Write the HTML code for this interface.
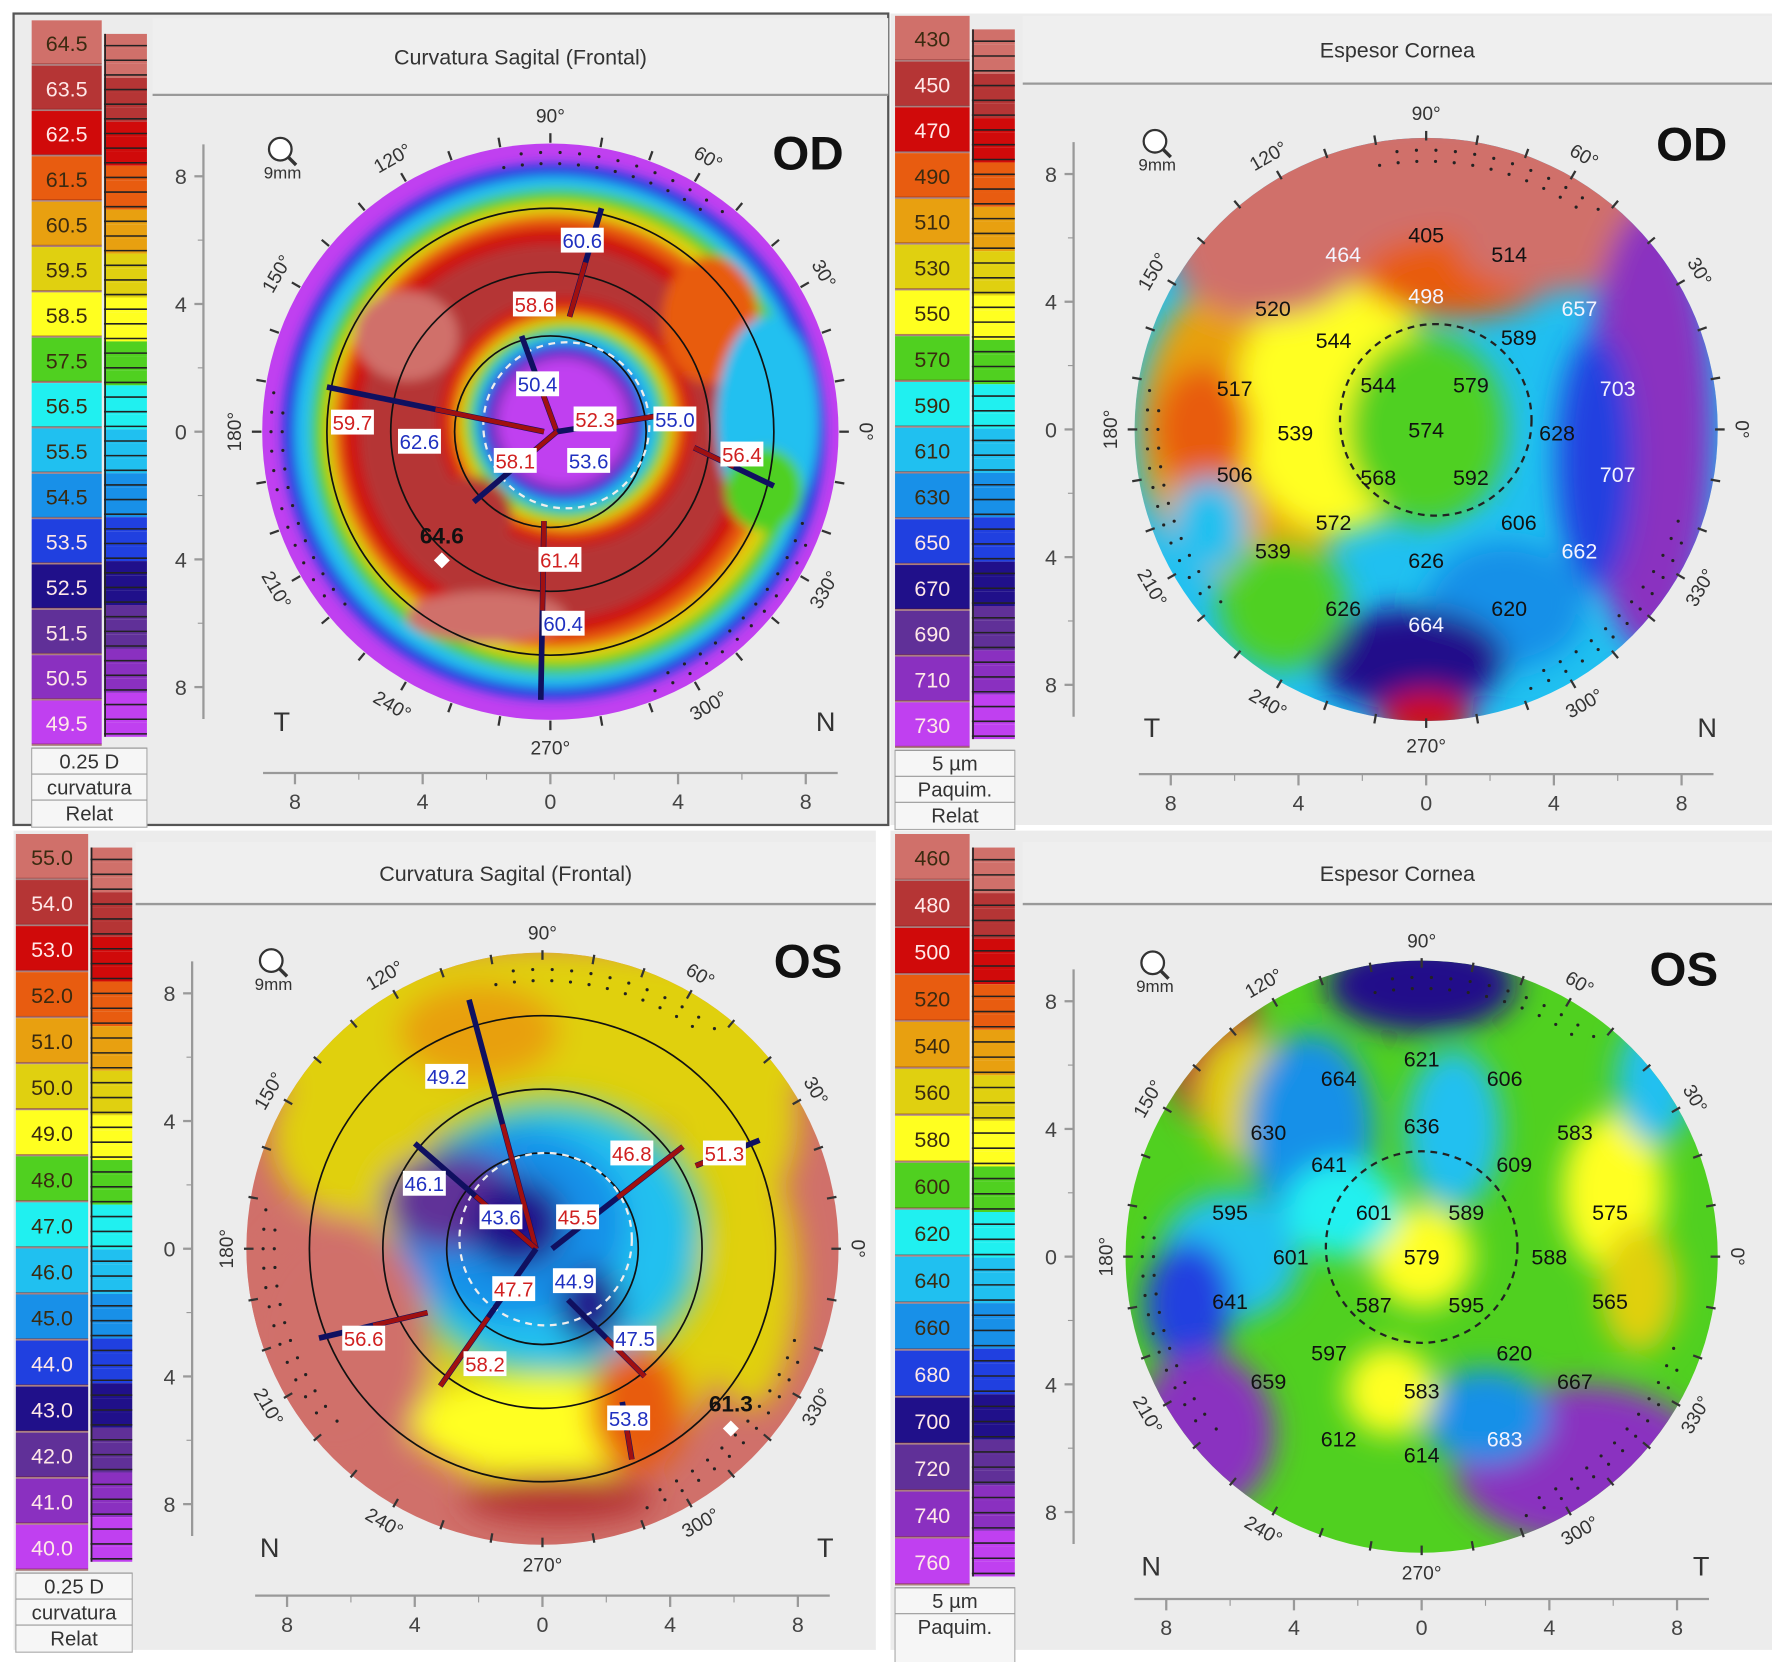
<!DOCTYPE html>
<html><head><meta charset="utf-8">
<style>
html,body{margin:0;padding:0;background:#fff;}
svg{display:block;font-family:"Liberation Sans",sans-serif;}
</style></head>
<body>
<svg id="chart" width="1772" height="1662" viewBox="0 0 1568 1470.7" xmlns="http://www.w3.org/2000/svg">
<defs>
<filter id="blur" x="-50%" y="-50%" width="200%" height="200%"><feGaussianBlur stdDeviation="13"/></filter>
<filter id="blurS" x="-50%" y="-50%" width="200%" height="200%"><feGaussianBlur stdDeviation="5"/></filter>
</defs>
<g id="root"></g>
</svg>
<script>
// ---- data ----
const palette = ['#d0706a','#b53535','#d00a0a','#e85c10','#e8a010','#e0d010','#ffff20','#50d020','#20f0f0','#20c0f0','#1890e8','#2040e0','#20108a','#603098','#8a30c0','#c040f0'];
const legendOD1 = ['64.5','63.5','62.5','61.5','60.5','59.5','58.5','57.5','56.5','55.5','54.5','53.5','52.5','51.5','50.5','49.5'];
const legendOD2 = ['430','450','470','490','510','530','550','570','590','610','630','650','670','690','710','730'];
const legendOS1 = ['55.0','54.0','53.0','52.0','51.0','50.0','49.0','48.0','47.0','46.0','45.0','44.0','43.0','42.0','41.0','40.0'];
const legendOS2 = ['460','480','500','520','540','560','580','600','620','640','660','680','700','720','740','760'];
const axisTicks = ['8','4','0','4','8'];
const degLabels = ['0°','30°','60°','90°','120°','150°','180°','210°','240°','270°','300°','330°'];
// thickness readings [xmm, ymm, value]
const thickOD = [[0,6.1,'405'],[-2.6,5.5,'464'],[2.6,5.5,'514'],[0,4.2,'498'],[-4.8,3.8,'520'],[-2.9,2.8,'544'],[2.9,2.9,'589'],[4.8,3.8,'657'],[-6,1.3,'517'],[-1.5,1.4,'544'],[1.4,1.4,'579'],[6,1.3,'703'],[-4.1,-0.1,'539'],[0,0,'574'],[4.1,-0.1,'628'],[-6,-1.4,'506'],[-1.5,-1.5,'568'],[1.4,-1.5,'592'],[6,-1.4,'707'],[-2.9,-2.9,'572'],[2.9,-2.9,'606'],[-4.8,-3.8,'539'],[0,-4.1,'626'],[4.8,-3.8,'662'],[-2.6,-5.6,'626'],[2.6,-5.6,'620'],[0,-6.1,'664']];
const thickOS = [[0,6.2,'621'],[-2.6,5.6,'664'],[2.6,5.6,'606'],[0,4.1,'636'],[-4.8,3.9,'630'],[4.8,3.9,'583'],[-2.9,2.9,'641'],[2.9,2.9,'609'],[-6,1.4,'595'],[-1.5,1.4,'601'],[1.4,1.4,'589'],[5.9,1.4,'575'],[-4.1,0,'601'],[0,0,'579'],[4,0,'588'],[-6,-1.4,'641'],[-1.5,-1.5,'587'],[1.4,-1.5,'595'],[5.9,-1.4,'565'],[-2.9,-3,'597'],[2.9,-3,'620'],[-4.8,-3.9,'659'],[0,-4.2,'583'],[4.8,-3.9,'667'],[-2.6,-5.7,'612'],[2.6,-5.7,'683'],[0,-6.2,'614']];
const darkOD = ['464','498','657','703','707','662','664'];
const darkOS = ['683'];
// curvature readings [xmm, ymm, value, kind]
const curvOD = [[1,6,'60.6','b'],[-0.5,4,'58.6','r'],[-0.4,1.5,'50.4','b'],[1.4,0.4,'52.3','r'],[3.9,0.4,'55.0','b'],[-6.2,0.3,'59.7','r'],[-4.1,-0.3,'62.6','b'],[-1.1,-0.9,'58.1','r'],[1.2,-0.9,'53.6','b'],[6.0,-0.7,'56.4','r'],[0.3,-4.0,'61.4','r'],[0.4,-6.0,'60.4','b']];
const curvOS = [[-3,5.4,'49.2','b'],[2.8,3.0,'46.8','r'],[5.7,3.0,'51.3','r'],[-3.7,2.05,'46.1','b'],[-1.3,1.0,'43.6','b'],[1.1,1.0,'45.5','r'],[-0.9,-1.25,'47.7','r'],[1.0,-1.0,'44.9','b'],[-5.6,-2.8,'56.6','r'],[-1.8,-3.6,'58.2','r'],[2.9,-2.8,'47.5','b'],[2.7,-5.3,'53.8','b']];
// colour blobs [xmm, ymm, rxmm, rymm, level]
const blobOD1 = [[0,0,9,9,15],[0.1,0,8.5,8.4,11],[0.1,0,8.1,8.0,9],[0.2,0,7.7,7.6,7],[0.2,0,7.3,7.2,5],[0.1,0,6.9,6.8,3],[0,0,6.5,6.4,2],[0,0,6.0,5.9,1],[-4.5,3,1.6,1.4,0],[-2,-5.8,2.5,0.8,0],[0.5,0.3,4.0,3.9,2],[0.5,0.3,3.7,3.6,3],[0.5,0.3,3.4,3.3,5],[0.5,0.3,3.15,3.05,7],[0.5,0.3,2.9,2.8,9],[0.4,0.3,2.6,2.5,11],[0.4,0.3,2.3,2.2,14],[0.4,0.3,2.0,1.95,15],[5,3.5,1.5,2,3],[6.8,0.3,1.6,3.3,9],[6.7,-1.8,1.2,1.3,7],[-2.5,-2.6,1.3,1.2,1]];
const blobOD2 = [[0,0,9,9,9],[-5.5,0,3.5,5,4],[-2.8,0.8,3.2,4,6],[0,0,2.5,3,7],[-7,0,1.5,2,3],[0,7.2,9,2.8,0],[-5,5.5,3,2,0],[1,4.8,3,1.3,3],[4,5.8,3,1.5,0],[7,0,2,7,14],[5.3,-1,1.2,4,11],[2.5,-5.5,2.5,2,10],[-0.5,-7.2,3,1.6,12],[0,-9,1.5,0.8,2],[-4.5,-5.5,2,2,7],[-6.8,-3,1.2,1.5,9]];
const blobOS1 = [[0,0,9,9,0],[0,6.5,9,3,5],[-2,6.8,2.5,1.5,4],[6,4,2,3,5],[-6,3.5,2.5,2.5,5],[0,-1.5,6,6,5],[0.3,0.3,5,4.5,7],[0.3,0.3,4.5,4,9],[-1,0.8,3.6,3,10],[-2.8,1.5,2.2,1.5,13],[-0.8,0.8,1.5,1.4,12],[1.5,-1.8,1,1.2,12],[0,-5.5,4,1.5,6],[3,-5,1.5,2,3],[-6.5,-3,3,4,0],[6.5,-1,1.5,4,5],[0.5,-7.8,3,0.8,1]];
const blobOS2 = [[0,0,9,9,7],[0,8.5,3,1.5,12],[-6.5,6.5,1.5,2.5,1],[-5.5,5,1.5,2,5],[-3.5,4,2,3,10],[1,4,1.5,2.5,9],[-6,0,2.2,2,9],[-7.3,-1.5,1.4,2,11],[-6.8,-5.5,2.2,2.5,14],[5,-6.5,4,2.5,14],[2,-5,2,1.5,10],[6,2,1.6,2.5,6],[6.8,-1,1.2,2,5],[0,0,1.6,1.6,6],[-1,-4.2,1.4,1.4,6],[-2.5,1.5,1.8,1.5,8],[7.3,5.5,1.2,2,9]];

// ---- helpers ----
const NS='http://www.w3.org/2000/svg';
const root=document.getElementById('root');
function mk(tag,attrs,parent){const e=document.createElementNS(NS,tag);for(const k in attrs)e.setAttribute(k,attrs[k]);(parent||root).appendChild(e);return e;}
function txt(x,y,s,attrs,parent){const e=mk('text',Object.assign({x:x,y:y},attrs),parent);e.textContent=s;return e;}
const PXMM=28.25;

const panels=[[12,12,774,718],[788,12,780,718],[12,735,763,725],[788,735,780,725]];
panels.forEach((p,i)=>{const r=mk('rect',{x:p[0],y:p[1],width:p[2],height:p[3],fill:'#ececec',stroke:i==0?'#555':'none','stroke-width':2});

});

function legend(vals,x,y,w,h,sx,sw,name,foot){
  const g=mk('g',{});
  
  
  const bh=h/vals.length;
  vals.forEach((v,i)=>{
    const r=mk('rect',{x:x,y:y+i*bh,width:w,height:bh-1.5,fill:palette[i]},g);
    
    
    mk('rect',{x:x,y:y+i*bh+bh-2,width:w,height:2,fill:'#6a1010',opacity:0.5},g);
    const light=[0,3,4,5,6,7,8,9,10].includes(i);
    const t=txt(x+w/2,y+i*bh+bh/2+7,v,{'text-anchor':'middle','font-size':19,fill:light?'#3a2a10':'#ffe8e8'},g);
    
    
  });
  const n=vals.length*3;
  const sh=(h-20)/n;
  for(let i=0;i<n;i++){
    mk('rect',{x:sx,y:y+12+i*sh,width:sw,height:sh,fill:palette[Math.floor(i/3)]},g);
    mk('line',{x1:sx,x2:sx+sw,y1:y+12+i*sh+sh*0.8,y2:y+12+i*sh+sh*0.8,stroke:'#222','stroke-width':1.4},g);
  }
  mk('line',{x1:sx+1,x2:sx+1,y1:y+12,y2:y+h-8,stroke:'#222','stroke-width':1.5},g);
  const fy=y+h+2;
  mk('rect',{x:x,y:fy,width:sx+sw-x,height:70,fill:'#f6f6f6',stroke:'#aaa'},g);
  foot.forEach((s,i)=>{mk('line',{x1:x,x2:sx+sw,y1:fy+i*23,y2:fy+i*23,stroke:'#999'},g);
    const t=txt(x+(sx+sw-x)/2,fy+18+i*23,s,{'text-anchor':'middle','font-size':18,fill:'#333'},g);
    
    });
}
legend(legendOD1,28,18,62,642,92,38,'legend-od-curvature',['0.25 D','curvatura','Relat']);
legend(legendOD2,792,14,66,648,860,38,'legend-od-thickness',['5 µm','Paquim.','Relat']);
legend(legendOS1,14,738,64,652,80,37,'legend-os-curvature',['0.25 D','curvatura','Relat']);
legend(legendOS2,792,738,66,665,860,38,'legend-os-thickness',['5 µm','Paquim.']);

function titleBar(x,y,w,h,s){
  const r=mk('rect',{x:x,y:y,width:w,height:h,fill:'#efefef'});
  
  
  mk('line',{x1:x,x2:x+w,y1:y+h,y2:y+h,stroke:'#999','stroke-width':2});
  const t=txt(x+w/2,y+h/2+7,s,{'text-anchor':'middle','font-size':19,fill:'#333'});
  
  
}
titleBar(135,16,651,68,'Curvatura Sagital (Frontal)');
titleBar(905,14,663,60,'Espesor Cornea');
titleBar(120,745,655,55,'Curvatura Sagital (Frontal)');
titleBar(905,745,663,55,'Espesor Cornea');

let clipId=0;
function map(cx,cy,R,blobs,opt){
  const g=mk('g',{});
  
  
  const X=mm=>cx+mm*PXMM, Y=mm=>cy-mm*PXMM;
  const ax=cx-opt.axOff, by=cy+opt.byOff;
  mk('line',{x1:ax,x2:ax,y1:Y(9),y2:Y(-9),stroke:'#999','stroke-width':2},g);
  mk('line',{x1:X(-9),x2:X(9),y1:by,y2:by,stroke:'#999','stroke-width':2},g);
  axisTicks.forEach((t,i)=>{const v=8-i*4;
    mk('line',{x1:ax-8,x2:ax,y1:Y(v),y2:Y(v),stroke:'#999','stroke-width':2},g);
    const yl=txt(ax-20,Y(v)+7,t,{'text-anchor':'middle','font-size':19,fill:'#444'},g);
    
    
    const hv=-8+i*4;
    mk('line',{x1:X(hv),x2:X(hv),y1:by,y2:by+10,stroke:'#999','stroke-width':2},g);
    const xl=txt(X(hv),by+32,t,{'text-anchor':'middle','font-size':19,fill:'#444'},g);
    
    
  });
  for(let v=-8;v<=8;v+=2){if(v%4){mk('line',{x1:ax-5,x2:ax,y1:Y(v),y2:Y(v),stroke:'#999'},g);mk('line',{x1:X(v),x2:X(v),y1:by,y2:by+6,stroke:'#999'},g);}}
  const id='clip'+(clipId++);
  const cp=mk('clipPath',{id:id},g);mk('circle',{cx:cx,cy:cy,r:R},cp);
  const cg=mk('g',{'clip-path':'url(#'+id+')'},g);
  const base=blobs[0];
  const be=mk('circle',{cx:cx,cy:cy,r:R+10,fill:palette[base[4]]},cg);
  
  
  const bg=mk('g',{filter:'url(#'+(opt.filter||'blur')+')'},cg);
  blobs.slice(1).forEach(b=>{const e=mk('ellipse',{cx:X(b[0]),cy:Y(b[1]),rx:b[2]*PXMM,ry:b[3]*PXMM,fill:palette[b[4]]},bg);
    
    });
  for(let a=0;a<360;a+=4){for(let rr=8.4;rr<9;rr+=0.35){const t=a*Math.PI/180;if(Math.cos(t*3+rr)>0.3)mk('circle',{cx:X(rr*Math.cos(t)),cy:Y(rr*Math.sin(t)),r:1.4,fill:'#222'},cg);}}
  (opt.rings||[]).forEach(r=>mk('circle',{cx:cx,cy:cy,r:r*PXMM,fill:'none',stroke:'#111','stroke-width':1.5},g));
  if(opt.dash) mk('circle',{cx:cx+opt.dash[1]*PXMM,cy:cy-opt.dash[2]*PXMM,r:opt.dash[0]*PXMM,fill:'none',stroke:opt.dashCol,'stroke-width':2,'stroke-dasharray':'6 5'},g);
  for(let a=0;a<360;a+=10){const t=a*Math.PI/180;mk('line',{x1:X(9.05*Math.cos(t)),y1:Y(9.05*Math.sin(t)),x2:X(9.35*Math.cos(t)),y2:Y(9.35*Math.sin(t)),stroke:'#333','stroke-width':2},g);}
  degLabels.forEach((d,i)=>{const a=i*30,t=a*Math.PI/180;const x=X(9.9*Math.cos(t)),y=Y(9.9*Math.sin(t));
    const rot=(a>180&&a<360)?270-a:90-a;
    const l=txt(x,y+6,d,{'text-anchor':'middle','font-size':17,fill:'#333',transform:'rotate('+rot+' '+x+' '+y+')'},g);
    
    });
  const sl=txt(cx+opt.let[0][0],cy+opt.let[0][1],opt.let[0][2],{'font-size':24,fill:'#333'},g);
  
  const sr=txt(cx+opt.let[1][0],cy+opt.let[1][1],opt.let[1][2],{'font-size':24,fill:'#333'},g);
  
  const eye=txt(cx+opt.eye[0],cy+opt.eye[1],opt.eye[2],{'font-size':42,'font-weight':'bold',fill:'#111','text-anchor':'middle'},g);
  
  const mx=cx+opt.mag[0],my=cy+opt.mag[1];
  const mg=mk('g',{},g);
  
  
  mk('circle',{cx:mx,cy:my-10,r:10,fill:'#fff',stroke:'#333','stroke-width':2},mg);
  mk('line',{x1:mx+7,y1:my-3,x2:mx+14,y2:my+4,stroke:'#333','stroke-width':3},mg);
  txt(mx+2,my+16,'9mm',{'font-size':15,fill:'#333','text-anchor':'middle'},mg);
  return {g:g,X:X,Y:Y};
}

const m1=map(487,382,255,blobOD1,{name:'od-curvature-map',filter:'blurS',axOff:307,byOff:302,rings:[3,5,7],dash:[2.6,0.5,0.2],dashCol:'#eee',let:[[-245,265,'T'],[235,265,'N']],eye:[228,-232,'OD'],mag:[-239,-240]});
const m2=map(1262,380,258,blobOD2,{name:'od-thickness-map',axOff:312,byOff:305,dash:[3,0.3,0.3],dashCol:'#222',let:[[-250,272,'T'],[240,272,'N']],eye:[235,-238,'OD'],mag:[-240,-245]});
const m3=map(480,1105,262,blobOS1,{name:'os-curvature-map',axOff:310,byOff:307,rings:[3,5,7.3],dash:[2.7,0.1,0.3],dashCol:'#eee',let:[[-250,273,'N'],[243,273,'T']],eye:[235,-240,'OS'],mag:[-240,-245]});
const m4=map(1258,1112,262,blobOS2,{name:'os-thickness-map',axOff:308,byOff:303,dash:[3,0,0.3],dashCol:'#222',let:[[-248,282,'N'],[240,282,'T']],eye:[232,-240,'OS'],mag:[-238,-250]});

function meridians(m,lines){lines.forEach(l=>{mk('line',{x1:m.X(l[0]),y1:m.Y(l[1]),x2:m.X(l[2]),y2:m.Y(l[3]),stroke:'#101060','stroke-width':5},m.g);
 mk('line',{x1:m.X((l[0]+l[2])/2),y1:m.Y((l[1]+l[3])/2),x2:m.X(l[2]),y2:m.Y(l[3]),stroke:'#a01010','stroke-width':4},m.g);});}
meridians(m1,[[1.6,7,0.6,3.6],[-0.9,3,0.2,0],[-7,1.4,-0.2,0],[0.2,0,3.4,0.5],[7,-1.7,4.5,-0.5],[-2.4,-2.2,0.2,0],[-0.3,-8.4,-0.2,-2.8]]);
meridians(m3,[[-2.3,7.8,-0.2,0],[-4,3.3,-0.2,0],[0.3,0,4.4,3.2],[6.8,3.4,4.8,2.6],[-7,-2.8,-3.6,-2],[-0.2,0,-3.2,-4.3],[0.8,-1.6,3.2,-4],[2.5,-4.8,2.8,-6.6]]);

function curvLabels(m,arr){arr.forEach(c=>{const x=m.X(c[0]),y=m.Y(c[1]);
  mk('rect',{x:x-19,y:y-11,width:38,height:22,fill:'#fff'},m.g);
  const t=txt(x,y+7,c[2],{'text-anchor':'middle','font-size':18,fill:c[3]=='b'?'#2030c0':'#d02020'},m.g);
  
  });}
curvLabels(m1,curvOD);curvLabels(m3,curvOS);
function maxLabel(m,x,y,s){const t=txt(m.X(x),m.Y(y),s,{'text-anchor':'middle','font-size':20,'font-weight':'bold',fill:'#111'},m.g);
 
 mk('rect',{x:m.X(x)-5,y:m.Y(y)+10,width:10,height:10,fill:'#fff',transform:'rotate(45 '+m.X(x)+' '+(m.Y(y)+15)+')'},m.g);}
maxLabel(m1,-3.4,-3.5,'64.6');maxLabel(m3,5.9,-5.1,'61.3');
function thickLabels(m,arr,dark){arr.forEach(c=>{const t=txt(m.X(c[0]),m.Y(c[1])+7,c[2],{'text-anchor':'middle','font-size':19,fill:dark.includes(c[2])?'#f4f4ff':'#111'},m.g);
  
  });}
thickLabels(m2,thickOD,darkOD);thickLabels(m4,thickOS,darkOS);
</script>
</body></html>
